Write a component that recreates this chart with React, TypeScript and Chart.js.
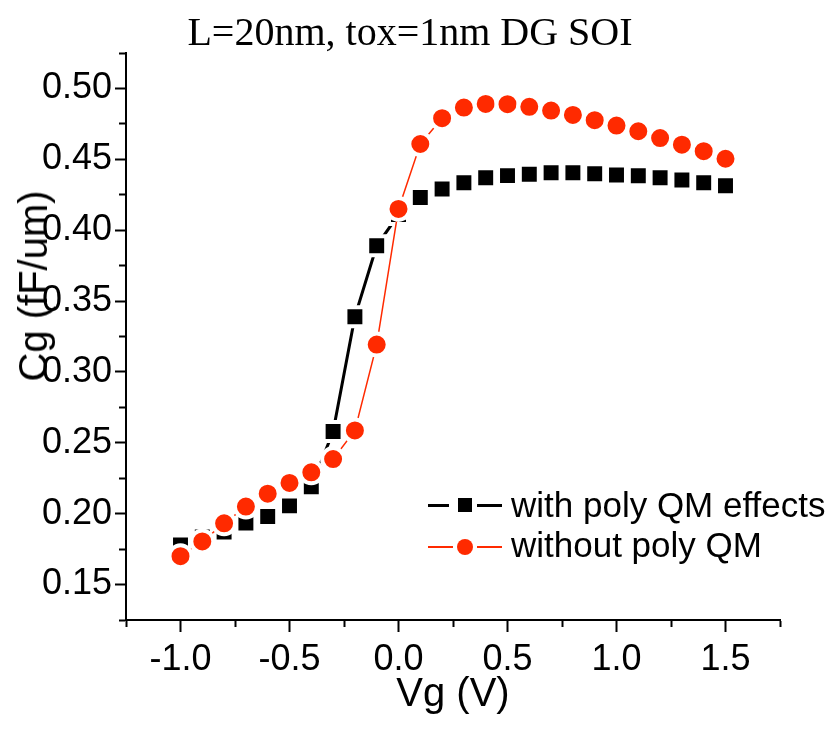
import React, { useEffect, useRef } from 'react';
import { Chart, registerables } from 'chart.js';

Chart.register(...registerables);

// ---- data -------------------------------------------------------------
const vg = [-1.0, -0.9, -0.8, -0.7, -0.6, -0.5, -0.4, -0.3, -0.2, -0.1, 0.0, 0.1, 0.2, 0.3, 0.4, 0.5, 0.6, 0.7, 0.8, 0.9, 1.0, 1.1, 1.2, 1.3, 1.4, 1.5];
const cgWithPolyQM = [0.178, 0.1835, 0.187, 0.1935, 0.198, 0.2055, 0.219, 0.258, 0.339, 0.389, 0.411, 0.423, 0.429, 0.4335, 0.437, 0.4385, 0.4395, 0.4405, 0.4405, 0.4398, 0.439, 0.4384, 0.437, 0.4354, 0.4334, 0.4313];
const cgWithoutPolyQM = [0.170, 0.1804, 0.1932, 0.205, 0.2141, 0.2217, 0.2292, 0.2385, 0.2587, 0.3193, 0.415, 0.4608, 0.479, 0.4865, 0.4891, 0.4889, 0.487, 0.4844, 0.4813, 0.4776, 0.4738, 0.4698, 0.465, 0.4603, 0.4557, 0.4504];
const xTickLabels = ['-1.0', '-0.5', '0.0', '0.5', '1.0', '1.5'];
const yTickLabels = ['0.15', '0.20', '0.25', '0.30', '0.35', '0.40', '0.45', '0.50'];
const seriesNames = ['with poly QM effects', 'without poly QM'];
const titleText = 'L=20nm, tox=1nm DG SOI';
const xTitle = 'Vg (V)';
const yTitle = 'Cg (fF/um)';

// ---- styles -----------------------------------------------------------
const BLACK = '#000000';
const RED = '#ff2a00';
const SANS = '"Liberation Sans", Arial, Helvetica, sans-serif';
const SERIF = '"Liberation Serif", "Times New Roman", Times, serif';

const findLabel = (labels: string[], v: number) =>
  labels.find((l) => Math.abs(parseFloat(l) - v) < 1e-6);

export default function App() {
  const canvasRef = useRef<HTMLCanvasElement | null>(null);

  useEffect(() => {
    if (!canvasRef.current) return;
    const chart = new Chart(canvasRef.current, {
      type: 'line',
      data: {
        datasets: [
          {
            label: seriesNames[0],
            data: vg.map((x, i) => ({ x, y: cgWithPolyQM[i] })),
            borderColor: BLACK,
            backgroundColor: BLACK,
            borderWidth: 3,
            tension: 0,
            pointStyle: 'rect',
            pointRadius: 13.4,
            pointHoverRadius: 13.4,
            pointBackgroundColor: BLACK,
            pointBorderColor: '#ffffff',
            pointBorderWidth: 4,
            order: 2,
          },
          {
            label: seriesNames[1],
            data: vg.map((x, i) => ({ x, y: cgWithoutPolyQM[i] })),
            borderColor: RED,
            backgroundColor: RED,
            borderWidth: 1.5,
            tension: 0,
            pointStyle: 'circle',
            pointRadius: 11,
            pointHoverRadius: 11,
            pointBackgroundColor: RED,
            pointBorderColor: '#ffffff',
            pointBorderWidth: 4,
            order: 1,
          },
        ],
      },
      options: {
        responsive: false,
        animation: false,
        events: [],
        layout: { padding: { top: 45, right: 48, left: 0, bottom: 0 } },
        plugins: {
          legend: { display: false },
          title: { display: false },
          tooltip: { enabled: false },
        },
        scales: {
          x: {
            type: 'linear',
            min: -1.25,
            max: 1.75,
            ticks: {
              stepSize: 0.25,
              autoSkip: false,
              maxRotation: 0,
              minRotation: 0,
              padding: 6,
              color: BLACK,
              font: { family: SANS, size: 36 },
              callback: (v: any) => findLabel(xTickLabels, Number(v)) ?? '',
            },
            grid: {
              drawOnChartArea: false,
              drawTicks: true,
              tickLength: 12,
              tickWidth: 2,
              tickColor: BLACK,
              tickBorderDash: (ctx: any) =>
                ctx.tick && findLabel(xTickLabels, ctx.tick.value) ? [] : [6, 100],
            },
            border: { display: true, color: BLACK, width: 2 },
            title: {
              display: true,
              text: xTitle,
              color: BLACK,
              font: { family: SANS, size: 40 },
              padding: { top: 0, bottom: 6 },
            },
            afterFit: (s: any) => {
              s.height = 105;
              s.paddingLeft = 0;
              s.paddingRight = 0;
            },
          },
          y: {
            type: 'linear',
            min: 0.125,
            max: 0.525,
            ticks: {
              stepSize: 0.025,
              autoSkip: false,
              padding: 3,
              color: BLACK,
              font: { family: SANS, size: 36 },
              callback: (v: any) => findLabel(yTickLabels, Number(v)) ?? '',
            },
            grid: {
              drawOnChartArea: false,
              drawTicks: true,
              tickLength: 11,
              tickWidth: 2,
              tickColor: BLACK,
              tickBorderDash: (ctx: any) =>
                ctx.tick && findLabel(yTickLabels, ctx.tick.value) ? [] : [0, 4, 6, 100],
            },
            border: { display: true, color: BLACK, width: 2 },
            title: { display: false },
            afterFit: (s: any) => {
              s.width = 118;
              s.paddingTop = 0;
              s.paddingBottom = 0;
            },
          },
        },
      },
    } as any);
    return () => chart.destroy();
  }, []);

  const seg = (left: number, top: number, width: number, h: number, color: string) => (
    <div style={{ position: 'absolute', left, top: top - h / 2, width, height: h, background: color }} />
  );

  return (
    <div style={{ position: 'relative', width: 820, height: 717 }}>
      <canvas ref={canvasRef} width={820} height={717} style={{ display: 'block' }} />
      <div
        style={{
          position: 'absolute',
          left: 0,
          top: 1,
          width: 804,
          textAlign: 'center',
          fontFamily: SERIF,
          fontSize: 40,
          lineHeight: '46px',
          color: BLACK,
          whiteSpace: 'nowrap',
        }}
      >
        {titleText}
      </div>
      <div
        style={{
          position: 'absolute',
          left: 25,
          top: 278,
          transform: 'translate(-50%, -50%) rotate(-90deg)',
          fontFamily: SANS,
          fontSize: 40,
          lineHeight: 1,
          color: BLACK,
          whiteSpace: 'nowrap',
        }}
      >
        {yTitle}
      </div>
      {/* legend */}
      {seg(420, 497, 21, 3, BLACK)}
      <div style={{ position: 'absolute', left: 450, top: 490, width: 14, height: 14, background: BLACK }} />
      {seg(469, 497, 25, 3, BLACK)}
      <div
        style={{
          position: 'absolute',
          left: 503,
          top: 477,
          fontFamily: SANS,
          fontSize: 35,
          lineHeight: '40px',
          color: BLACK,
          whiteSpace: 'nowrap',
        }}
      >
        {seriesNames[0]}
      </div>
      {seg(420, 539, 25, 1.5, RED)}
      <div
        style={{
          position: 'absolute',
          left: 449,
          top: 531,
          width: 16,
          height: 16,
          borderRadius: '50%',
          background: RED,
        }}
      />
      {seg(469, 539, 25, 1.5, RED)}
      <div
        style={{
          position: 'absolute',
          left: 503,
          top: 517,
          fontFamily: SANS,
          fontSize: 35,
          lineHeight: '40px',
          color: BLACK,
          whiteSpace: 'nowrap',
        }}
      >
        {seriesNames[1]}
      </div>
    </div>
  );
}
